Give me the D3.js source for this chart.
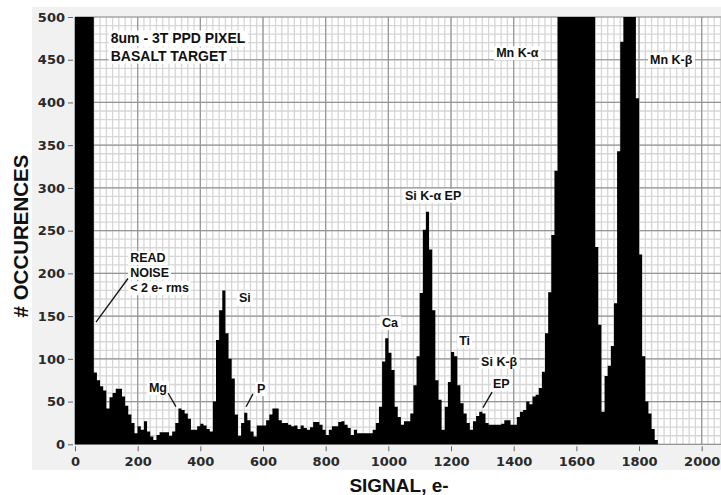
<!DOCTYPE html>
<html><head><meta charset="utf-8">
<script src="https://cdn.jsdelivr.net/npm/d3@7"></script>
<style>body{margin:0;background:#fff} svg{display:block}</style>
</head><body><svg id="c" width="721" height="495"></svg>
<script>
// ---- data ----
const binWidth = 10;           // signal bin width, e-
const binStart = 0;            // first bin start, e-
const counts = [
  4000, 9000, 7000, 3000, 1200, 560, 84, 75, 68, 63,      // 0-90
  42, 55, 60, 65, 65, 56, 45, 35, 25, 13,                 // 100-190
  21, 17, 27, 15, 9, 5, 11, 14, 14, 14,                   // 200-290
  10, 15, 25, 42, 40, 36, 30, 17, 17, 21,                 // 300-390
  24, 22, 18, 15, 50, 122, 157, 180, 130, 100,            // 400-490
  77, 35, 10, 25, 37, 28, 15, 9, 22, 22,                  // 500-590
  22, 28, 35, 42, 42, 28, 25, 25, 23, 21,                 // 600-690
  22, 18, 22, 19, 17, 20, 26, 26, 23, 17,                 // 700-790
  11, 17, 21, 21, 26, 27, 23, 19, 11, 17,                 // 800-890
  13, 13, 13, 13, 13, 17, 25, 44, 97, 124,                // 900-990
  107, 87, 44, 32, 23, 27, 27, 36, 69, 103,               // 1000-1090
  177, 251, 272, 228, 157, 75, 52, 17, 44, 73,            // 1100-1190
  108, 103, 69, 48, 36, 25, 17, 27, 33, 38,               // 1200-1290
  36, 25, 23, 23, 23, 23, 24, 28, 28, 23,                 // 1300-1390
  23, 32, 38, 40, 50, 47, 56, 58, 66, 85,                 // 1400-1490
  130, 178, 245, 320, 700, 900, 1100, 1250, 1350, 1400,   // 1500-1590
  1380, 1300, 1150, 1000, 850, 650, 231, 140, 38, 80,     // 1600-1690
  92, 115, 165, 343, 471, 620, 700, 680, 560, 405,        // 1700-1790
  222, 103, 50, 36, 18, 5                                 // 1800-1850
];
const xTicks = [0, 200, 400, 600, 800, 1000, 1200, 1400, 1600, 1800, 2000];
const yTicks = [0, 50, 100, 150, 200, 250, 300, 350, 400, 450, 500];
const labels = [
  {text: "8um - 3T PPD PIXEL", x: 114, y: 469, big: true},
  {text: "BASALT TARGET", x: 114, y: 449, big: true},
  {text: "Mn K-\u03b1", x: 1344, y: 453},
  {text: "Mn K-\u03b2", x: 1835, y: 445},
  {text: "Si K-\u03b1 EP", x: 1053, y: 286},
  {text: "READ", x: 176, y: 213},
  {text: "NOISE", x: 176, y: 196},
  {text: "< 2 e- rms", x: 176, y: 178},
  {text: "Si", x: 523, y: 166},
  {text: "Mg", x: 236, y: 61},
  {text: "P", x: 581, y: 60},
  {text: "Ca", x: 980, y: 137},
  {text: "Ti", x: 1226, y: 116},
  {text: "Si K-\u03b2", x: 1296, y: 92},
  {text: "EP", x: 1334, y: 66}
];
const leaders = [
  {x1: 169, y1: 194, x2: 67, y2: 143},
  {x1: 297, y1: 60, x2: 322, y2: 44},
  {x1: 568, y1: 59, x2: 546, y2: 44},
  {x1: 1331, y1: 61, x2: 1302, y2: 43}
];

// ---- layout ----
const svg = d3.select("#c");
const L = 75, R = 721, T = 17, B = 444.3;
const x = d3.scaleLinear().domain([0, 2000]).range([L, 701.7]);
const y = d3.scaleLinear().domain([0, 500]).range([B, T]).clamp(true);
const xMax = x.invert(R);

// panel background
svg.append("rect").attr("x", 32).attr("y", 7).attr("width", 721 - 32).attr("height", 470 - 7)
  .attr("fill", "#f1f1f1");
svg.append("rect").attr("x", L).attr("y", T).attr("width", R - L).attr("height", B - T)
  .attr("fill", "#ffffff");

// grid
const g = svg.append("g");
const minorX = d3.range(0, xMax, 20), minorY = d3.range(0, 500.1, 10);
g.selectAll(".mx").data(minorX).join("line")
  .attr("x1", d => x(d)).attr("x2", d => x(d)).attr("y1", T).attr("y2", B)
  .attr("stroke", "#d6d6d6").attr("stroke-width", 1.3);
g.selectAll(".my").data(minorY).join("line")
  .attr("x1", L).attr("x2", R).attr("y1", d => y(d)).attr("y2", d => y(d))
  .attr("stroke", "#d6d6d6").attr("stroke-width", 1.3);
const majorX = d3.range(0, xMax, 200);
g.selectAll(".Mx").data(majorX).join("line")
  .attr("x1", d => x(d)).attr("x2", d => x(d)).attr("y1", T).attr("y2", B)
  .attr("stroke", "#959595").attr("stroke-width", 1.2);
g.selectAll(".My").data(yTicks).join("line")
  .attr("x1", L).attr("x2", R).attr("y1", d => y(d)).attr("y2", d => y(d))
  .attr("stroke", "#959595").attr("stroke-width", 1.2);

// histogram
const pts = counts.map((c, i) => ({s: binStart + i * binWidth, c}));
pts.push({s: binStart + counts.length * binWidth, c: 0});
const area = d3.area().curve(d3.curveStepAfter)
  .x(d => x(d.s)).y0(y(0)).y1(d => y(d.c));
svg.append("path").datum(pts).attr("d", area).attr("fill", "#000");

// axes
const tickFont = "'DejaVu Sans', Verdana, sans-serif";
const yAx = svg.append("g").attr("transform", `translate(${L - 2},0)`)
  .call(d3.axisLeft(y).tickValues(yTicks).tickSize(5).tickPadding(3));
yAx.select(".domain").remove();
yAx.selectAll("line").attr("stroke", "#666");
yAx.selectAll("text").attr("font-family", tickFont).attr("font-weight", "bold")
  .attr("font-size", 13).attr("fill", "#2a2a2a");
const xAx = svg.append("g").attr("transform", `translate(0,${B + 2})`)
  .call(d3.axisBottom(x).tickValues(xTicks).tickSize(5).tickPadding(5).tickFormat(d3.format("d")));
xAx.select(".domain").remove();
xAx.selectAll("line").attr("stroke", "#666");
xAx.selectAll("text").attr("font-family", tickFont).attr("font-weight", "bold")
  .attr("font-size", 13).attr("fill", "#2a2a2a");

// axis titles
const titleFont = "'Liberation Sans', Arial, sans-serif";
svg.append("text").attr("x", 399).attr("y", 492).attr("text-anchor", "middle")
  .attr("font-family", titleFont).attr("font-weight", "bold").attr("font-size", 19)
  .attr("fill", "#111").text("SIGNAL, e-");
svg.append("text").attr("transform", "translate(28,236) rotate(-90)").attr("text-anchor", "middle")
  .attr("font-family", titleFont).attr("font-weight", "bold").attr("font-size", 20.5)
  .attr("fill", "#111").text("# OCCURENCES");

// annotations
const ann = svg.append("g");
labels.forEach(l => {
  const t = ann.append("text").attr("x", x(l.x)).attr("y", y(l.y))
    .attr("font-family", titleFont).attr("font-weight", "bold")
    .attr("font-size", l.big ? 14 : 12.5).attr("fill", "#111").text(l.text);
  const bb = t.node().getBBox();
  ann.insert("rect", () => t.node())
    .attr("x", bb.x - 2).attr("y", bb.y).attr("width", bb.width + 4).attr("height", bb.height)
    .attr("fill", "#fff");
});
ann.selectAll("line").data(leaders).join("line")
  .attr("x1", d => x(d.x1)).attr("y1", d => y(d.y1)).attr("x2", d => x(d.x2)).attr("y2", d => y(d.y2))
  .attr("stroke", "#111").attr("stroke-width", 1.3);
</script></body></html>
